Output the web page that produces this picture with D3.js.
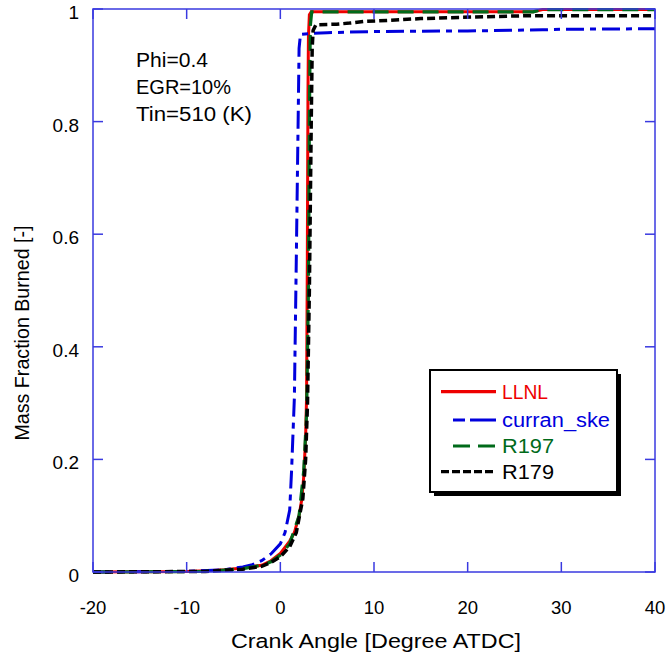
<!DOCTYPE html>
<html><head><meta charset="utf-8">
<script src="https://cdn.jsdelivr.net/npm/d3@7"></script>
<style>html,body{margin:0;padding:0;background:#fff;}svg{display:block;font-family:Arial,"Liberation Sans",sans-serif;}</style>
</head><body>
<svg id="c" width="667" height="659"></svg>
<script>
// ---- data ----
const llnlX  = [-20,-10,-8,-6,-4,-2,-1,0,1,1.5,2,2.3,2.5,2.7,2.8,2.88,2.95,3.0,3.1,3.3,5,10,20,27,28,40];
const llnlY  = [0,0.001,0.002,0.004,0.007,0.012,0.02,0.033,0.055,0.07,0.1,0.13,0.17,0.24,0.31,0.55,0.85,0.95,0.99,0.995,0.995,0.995,0.995,0.995,0.999,0.999];
const curranX = [-20,-10,-6,-4,-3,-2,-1,0,0.5,1.0,1.2,1.5,1.7,1.9,2.0,2.15,3.5,5,10,20,28,30,40];
const curranY = [0,0.001,0.004,0.009,0.013,0.02,0.032,0.05,0.07,0.11,0.18,0.31,0.55,0.8,0.93,0.955,0.957,0.958,0.96,0.961,0.963,0.964,0.965];
const r197X  = [-20,-8,-4,-2,-1,0,1,2,2.5,2.8,3.0,3.1,3.2,3.35,5,10,20,27,28,40];
const r197Y  = [0,0.001,0.006,0.012,0.018,0.03,0.05,0.1,0.18,0.28,0.5,0.8,0.97,0.995,0.995,0.995,0.995,0.995,0.999,0.999];
const r179X  = [-20,-8,-4,-2,-1,0,1,1.7,2.4,2.7,2.9,3.1,3.3,3.4,3.5,3.8,6,7.4,9,11.7,15,19,26,40];
const r179Y  = [0,0.001,0.005,0.01,0.017,0.027,0.045,0.07,0.13,0.2,0.3,0.5,0.8,0.93,0.962,0.972,0.973,0.975,0.978,0.98,0.983,0.985,0.988,0.988];
const seriesNames = ["LLNL","curran_ske","R197","R179"];
const xTicks = [-20,-10,0,10,20,30,40];
const yTicks = [0,0.2,0.4,0.6,0.8,1];
const yTickLabels = ["0","0.2","0.4","0.6","0.8","1"];
const notes = ["Phi=0.4","EGR=10%","Tin=510 (K)"];

// ---- chart ----
const svg = d3.select("#c");
const x = d3.scaleLinear().domain([-20,40]).range([93,655]);
const y = d3.scaleLinear().domain([0,1]).range([572,9]);
const styles = [
  {color:"#ee0000", dash:null, w:3},
  {color:"#0000dd", dash:"18,6,6,6", w:3},
  {color:"#006a1a", dash:"16,9", w:3.2},
  {color:"#000000", dash:"8,4", w:3.5}
];
const data = [
  d3.zip(llnlX,llnlY), d3.zip(curranX,curranY), d3.zip(r197X,r197Y), d3.zip(r179X,r179Y)
];
const line = d3.line().x(d=>x(d[0])).y(d=>y(d[1]));
data.forEach((d,i)=>{
  svg.append("path").attr("d",line(d)).attr("fill","none")
    .attr("stroke",styles[i].color).attr("stroke-width",styles[i].w)
    .attr("stroke-dasharray",styles[i].dash);
});

// frame + ticks
const axisColor = "#3a3ae0";
const g = svg.append("g");
g.append("rect").attr("x",93).attr("y",9).attr("width",562).attr("height",563)
  .attr("fill","none").attr("stroke",axisColor).attr("stroke-width",1.5);
xTicks.forEach(t=>{
  g.append("line").attr("x1",x(t)).attr("x2",x(t)).attr("y1",572).attr("y2",562).attr("stroke",axisColor).attr("stroke-width",1.5);
  g.append("line").attr("x1",x(t)).attr("x2",x(t)).attr("y1",9).attr("y2",19).attr("stroke",axisColor).attr("stroke-width",1.5);
});
yTicks.forEach(t=>{
  g.append("line").attr("x1",93).attr("x2",103).attr("y1",y(t)).attr("y2",y(t)).attr("stroke",axisColor).attr("stroke-width",1.5);
  g.append("line").attr("x1",645).attr("x2",655).attr("y1",y(t)).attr("y2",y(t)).attr("stroke",axisColor).attr("stroke-width",1.5);
});

// tick labels
svg.append("g").selectAll("text").data(xTicks).join("text")
  .attr("x",d=>x(d)).attr("y",614).attr("text-anchor","middle")
  .attr("font-size",18.5).attr("fill","#000").text(d=>d);
svg.append("g").selectAll("text").data(yTicks).join("text")
  .attr("x",79).attr("y",d=>y(d)+10).attr("text-anchor","end")
  .attr("font-size",19).attr("fill","#000").text((d,i)=>yTickLabels[i]);

// axis titles
svg.append("text").attr("x",376).attr("y",648).attr("text-anchor","middle")
  .attr("font-size",20.5).attr("textLength",290).attr("lengthAdjust","spacingAndGlyphs")
  .text("Crank Angle [Degree ATDC]");
svg.append("text").attr("transform","translate(29,333) rotate(-90)").attr("text-anchor","middle")
  .attr("font-size",20).attr("textLength",215).attr("lengthAdjust","spacingAndGlyphs").text("Mass Fraction Burned [-]");

// notes
const noteW = [72,95,116];
notes.forEach((n,i)=>{
  svg.append("text").attr("x",136).attr("y",67+i*27).attr("font-size",19.5)
    .attr("textLength",noteW[i]).attr("lengthAdjust","spacingAndGlyphs").text(n);
});

// legend
const lg = svg.append("g");
lg.append("rect").attr("x",434).attr("y",374).attr("width",187).attr("height",122).attr("fill","#000");
lg.append("rect").attr("x",430).attr("y",370).attr("width",187).attr("height",122).attr("fill","#fff")
  .attr("stroke","#000").attr("stroke-width",2);
const rowY = [391.7,420,446,471.7];
const lineStart = [441,453,453,441];
const textW = [46,108,52,52];
seriesNames.forEach((n,i)=>{
  lg.append("line").attr("x1",lineStart[i]).attr("x2",496).attr("y1",rowY[i]).attr("y2",rowY[i])
    .attr("stroke",styles[i].color).attr("stroke-width",3.2).attr("stroke-dasharray",
      i===1?"12,5,25,0":(i===2?"17,8":(i===3?"8,3":null)));
  lg.append("text").attr("x",502).attr("y",rowY[i]+7).attr("font-size",19.5)
    .attr("fill",styles[i].color).attr("textLength",textW[i]).attr("lengthAdjust","spacingAndGlyphs").text(n);
});
</script>
</body></html>
